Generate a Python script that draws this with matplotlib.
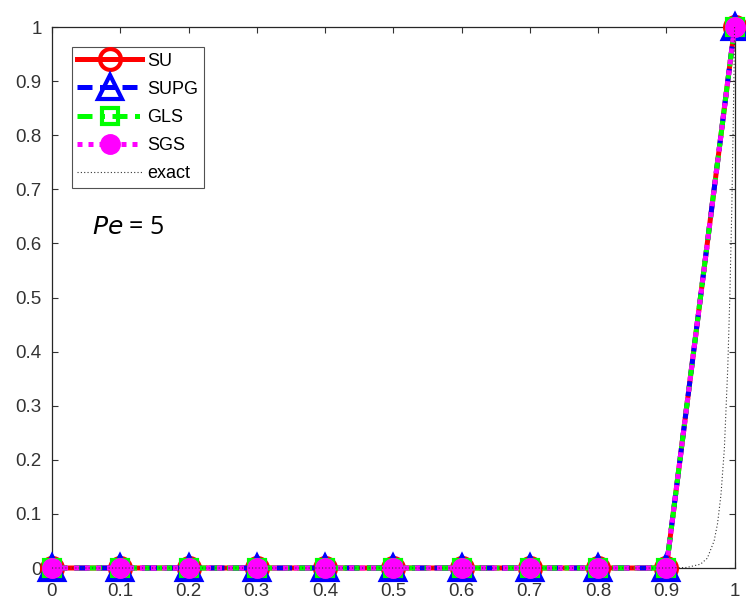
import numpy as np
import matplotlib
matplotlib.use("Agg")
import matplotlib.pyplot as plt

x_nodes = [0, 0.1, 0.2, 0.3, 0.4, 0.5, 0.6, 0.7, 0.8, 0.9, 1.0]
su = [0, 0, 0, 0, 0, 0, 0, 0, 0, 0, 1]
supg = [0, 0, 0, 0, 0, 0, 0, 0, 0, 0, 1]
gls = [0, 0, 0, 0, 0, 0, 0, 0, 0, 0, 1]
sgs = [0, 0, 0, 0, 0, 0, 0, 0, 0, 0, 1]
x_exact = [0.0, 0.90, 0.93, 0.95, 0.96, 0.97, 0.975, 0.98, 0.985, 0.99, 0.993, 0.996, 0.998, 1.0]
y_exact = [0.0, 0.0, 0.001, 0.007, 0.018, 0.05, 0.082, 0.135, 0.22, 0.37, 0.50, 0.67, 0.82, 1.0]
xticks = [0, 0.1, 0.2, 0.3, 0.4, 0.5, 0.6, 0.7, 0.8, 0.9, 1]
yticks = [0, 0.1, 0.2, 0.3, 0.4, 0.5, 0.6, 0.7, 0.8, 0.9, 1]

plt.rcParams['font.family'] = ['Liberation Sans', 'DejaVu Sans']

fig = plt.figure(figsize=(7.46, 6.01), dpi=100)
ax = fig.add_axes([0.0697, 0.0549, 0.915, 0.9])

lw = 3.6
ax.plot(x_nodes, su, color='#ff0000', lw=lw, ls='-', marker='o', ms=15,
        mfc='none', mec='#ff0000', mew=3, label='SU', clip_on=False, zorder=3)
ax.plot(x_nodes, supg, color='#0000ff', lw=lw, ls=(0, (3, 1.5)), marker='^', ms=17,
        mfc='none', mec='#0000ff', mew=3, label='SUPG', clip_on=False, zorder=4)
ax.plot(x_nodes, gls, color='#00ff00', lw=lw, ls=(0, (3, 1.5, 1, 1.5)), marker='s', ms=11,
        mfc='none', mec='#00ff00', mew=3, label='GLS', clip_on=False, zorder=5)
ax.plot(x_nodes, sgs, color='#ff00ff', lw=lw, ls=(0, (1.0, 1.2)), marker='o', ms=14,
        mfc='#ff00ff', mec='#ff00ff', mew=1, label='SGS', clip_on=False, zorder=6)
ax.plot(x_exact, y_exact, color='#333333', lw=0.8, ls=(0, (1, 2)), label='exact',
        clip_on=False, zorder=7)

ax.set_xlim(0, 1)
ax.set_ylim(0, 1)
ax.set_xticks(xticks)
ax.set_yticks(yticks)
ax.set_xticklabels([f"{t:g}" for t in xticks])
ax.set_yticklabels([f"{t:g}" for t in yticks])
ax.tick_params(direction='in', length=4, width=0.8, top=True, right=True,
               labelsize=13.5, colors='#333333')
ax.tick_params(axis='x', pad=11)
ax.tick_params(axis='y', pad=7.5)
for s in ax.spines.values():
    s.set_color('#262626')
    s.set_linewidth(0.9)

leg = ax.legend(loc='upper left', bbox_to_anchor=(0.029, 0.963), numpoints=1,
                handlelength=3.6, fontsize=13, frameon=True, fancybox=False,
                edgecolor='#262626', borderpad=0.3, labelspacing=0.62,
                handletextpad=0.3, borderaxespad=0, markerscale=1.0)
leg.get_frame().set_linewidth(0.8)

ax.text(0.058, 0.63, r'$\it{Pe}$ = 5', fontsize=18, family=['Open Sans', 'DejaVu Sans'],
        transform=ax.transData, va='center', ha='left', color='black')

fig.savefig('out.png', dpi=100)
